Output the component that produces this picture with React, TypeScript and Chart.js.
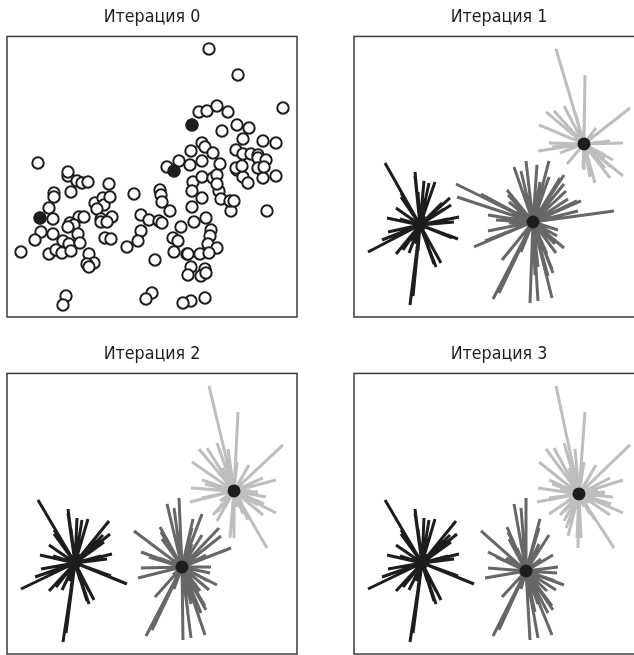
import React, { useEffect, useRef } from "react";
import { Chart, registerables } from "chart.js";

Chart.register(...registerables);

const pointX = [
  68, 77, 82, 88, 71, 54, 54, 95, 103, 104, 49, 97, 53, 79, 84, 112, 101, 101, 107, 70, 74, 68, 41, 53, 78,
  35, 63, 69, 80, 105, 111, 21, 49, 56, 62, 71, 89, 94, 87, 89, 66, 63, 38, 68, 40,
  109, 110, 127,
  134, 141, 149, 159, 162, 141, 138, 155, 152, 146, 160, 161, 162, 170, 192, 181, 194, 206, 211, 210, 173, 178,
  208, 217, 174, 187, 188, 200, 209, 191, 205, 188, 201, 206, 191, 183, 205, 193, 202, 192, 231, 179, 167, 174,
  202, 219, 221, 230, 234,
  213, 217, 217, 237, 243, 248, 267, 202, 190, 220,
  263, 276, 209, 238, 283, 199, 207, 217, 228, 237, 249, 222, 243, 263, 276, 202, 205, 191, 213, 236, 243, 251,
  258, 258, 266, 236, 242, 258, 264, 192,
];
const pointY = [
  176, 181, 183, 182, 192, 193, 197, 203, 198, 205, 208, 209, 219, 217, 217, 217, 219, 222, 222, 223, 225, 227, 232, 234, 234,
  240, 241, 244, 243, 238, 239, 252, 254, 250, 253, 251, 254, 263, 264, 267, 296, 305, 163, 172, 218,
  184, 197, 247,
  194, 215, 220, 221, 223, 231, 241, 260, 293, 299, 190, 195, 202, 211, 207, 227, 222, 218, 230, 236, 238, 241,
  244, 248, 252, 254, 254, 254, 253, 267, 269, 275, 276, 273, 301, 303, 298, 182, 198, 191, 211, 161, 167, 171,
  177, 191, 199, 201, 201,
  178, 175, 184, 170, 177, 183, 211, 161, 165, 164,
  178, 176, 49, 75, 108, 112, 111, 106, 112, 125, 128, 131, 139, 141, 143, 143, 147, 151, 153, 150, 154, 154,
  155, 158, 160, 168, 166, 168, 167, 125,
];
const labels1 = [
  0, 0, 0, 0, 0, 0, 0, 0, 0, 0, 0, 0, 0, 0, 0, 0, 0, 0, 0, 0, 0, 0, 0, 0, 0,
  0, 0, 0, 0, 0, 0, 0, 0, 0, 0, 0, 0, 0, 0, 0, 0, 0, 0, 0, 0,
  1, 1, 1,
  1, 1, 1, 1, 1, 1, 1, 1, 1, 1, 1, 1, 1, 1, 1, 1, 1, 1, 1, 1, 1, 1,
  1, 1, 1, 1, 1, 1, 1, 1, 1, 1, 1, 1, 1, 1, 1, 1, 1, 1, 1, 1, 1, 1,
  1, 1, 1, 1, 1,
  1, 1, 1, 2, 2, 2, 1, 1, 1, 2,
  2, 2, 2, 2, 2, 2, 2, 2, 2, 2, 2, 2, 2, 2, 2, 2, 2, 2, 2, 2, 2, 2,
  2, 2, 2, 2, 2, 2, 2, 2,
];
const labels2 = [
  0, 0, 0, 0, 0, 0, 0, 0, 0, 0, 0, 0, 0, 0, 0, 0, 0, 0, 0, 0, 0, 0, 0, 0, 0,
  0, 0, 0, 0, 0, 0, 0, 0, 0, 0, 0, 0, 0, 0, 0, 0, 0, 0, 0, 0,
  0, 0, 0,
  1, 1, 1, 1, 1, 1, 1, 1, 1, 1, 1, 1, 1, 1, 1, 1, 1, 1, 1, 1, 1, 1,
  1, 1, 1, 1, 1, 1, 1, 1, 1, 1, 1, 1, 1, 1, 1, 1, 1, 1, 1, 1, 1, 1,
  1, 1, 1, 2, 2,
  2, 2, 2, 2, 2, 2, 2, 2, 2, 2,
  2, 2, 2, 2, 2, 2, 2, 2, 2, 2, 2, 2, 2, 2, 2, 2, 2, 2, 2, 2, 2, 2,
  2, 2, 2, 2, 2, 2, 2, 2,
];
const labels3 = [
  0, 0, 0, 0, 0, 0, 0, 0, 0, 0, 0, 0, 0, 0, 0, 0, 0, 0, 0, 0, 0, 0, 0, 0, 0,
  0, 0, 0, 0, 0, 0, 0, 0, 0, 0, 0, 0, 0, 0, 0, 0, 0, 0, 0, 0,
  0, 0, 0,
  1, 1, 1, 1, 1, 1, 1, 1, 1, 1, 1, 1, 1, 1, 1, 1, 1, 1, 1, 1, 1, 1,
  1, 1, 1, 1, 1, 1, 1, 1, 1, 1, 1, 1, 1, 1, 1, 1, 1, 1, 2, 1, 1, 1,
  2, 2, 2, 2, 2,
  2, 2, 2, 2, 2, 2, 2, 2, 2, 2,
  2, 2, 2, 2, 2, 2, 2, 2, 2, 2, 2, 2, 2, 2, 2, 2, 2, 2, 2, 2, 2, 2,
  2, 2, 2, 2, 2, 2, 2, 2,
];

const seedX = [40, 174, 192];
const seedY = [218, 171, 125];
const centre1X = [73, 186, 237];
const centre1Y = [225, 222, 144];
const centre2X = [75, 182, 234];
const centre2Y = [226, 230, 154];
const centre3X = [75, 179, 232];
const centre3Y = [226, 234, 157];

const titles = ["Итерация 0", "Итерация 1", "Итерация 2", "Итерация 3"];
const clusterColors = ["#1e1c1d", "#676767", "#bcbec0"];
const INK = "#1e1c1d";
const FRAME = "#3a3a3a";

const frame = {
  id: "frame",
  afterDatasetsDraw(chart: any) {
    const { ctx, chartArea: a } = chart;
    ctx.save();
    ctx.strokeStyle = FRAME;
    ctx.lineWidth = 1.5;
    ctx.strokeRect(a.left, a.top, a.right - a.left, a.bottom - a.top);
    ctx.restore();
  },
};

function zip(xs: number[], ys: number[]) {
  return xs.map((x, i) => ({ x, y: ys[i] }));
}

function scatterDatasets() {
  return [
    {
      data: zip(seedX, seedY),
      pointRadius: 6.4,
      pointBorderWidth: 0,
      pointBackgroundColor: INK,
      showLine: false,
    },
    {
      data: zip(pointX, pointY),
      pointRadius: 5.7,
      pointBorderWidth: 2,
      pointBorderColor: INK,
      pointBackgroundColor: "#ffffff",
      showLine: false,
    },
  ];
}

function spokeDatasets(labels: number[], cx: number[], cy: number[]) {
  const centres = {
    data: zip(cx, cy),
    pointRadius: 6.5,
    pointBorderWidth: 0,
    pointBackgroundColor: INK,
    showLine: false,
  };
  const spokes = [2, 1, 0].map((c) => {
    const data: { x: number; y: number }[] = [];
    labels.forEach((l, i) => {
      if (l !== c) return;
      data.push({ x: cx[c], y: cy[c] }, { x: pointX[i], y: pointY[i] }, { x: NaN, y: NaN });
    });
    return {
      data,
      showLine: true,
      spanGaps: false,
      borderColor: clusterColors[c],
      borderWidth: 3,
      borderCapStyle: "butt",
      pointRadius: 0,
      tension: 0,
    };
  });
  return [centres, ...spokes];
}

const panels = [
  { left: 0, top: 0, datasets: scatterDatasets() },
  { left: 347, top: 0, datasets: spokeDatasets(labels1, centre1X, centre1Y) },
  { left: 0, top: 337, datasets: spokeDatasets(labels2, centre2X, centre2Y) },
  { left: 347, top: 337, datasets: spokeDatasets(labels3, centre3X, centre3Y) },
];

function Panel({ index }: { index: number }) {
  const ref = useRef<HTMLCanvasElement>(null);
  const p = panels[index];
  useEffect(() => {
    const chart = new Chart(ref.current!, {
      type: "scatter",
      data: { datasets: p.datasets as any },
      plugins: [frame],
      options: {
        animation: false,
        responsive: false,
        events: [],
        layout: { autoPadding: false, padding: { left: 7, right: 7, top: 0, bottom: 1 } },
        plugins: {
          legend: { display: false },
          tooltip: { enabled: false },
          title: {
            display: true,
            text: titles[index],
            color: INK,
            font: { family: "'DejaVu Sans Condensed', Roboto", size: 17.7, weight: "normal" },
            padding: { top: 7, bottom: 8.2 },
          },
        },
        scales: {
          x: { type: "linear", display: false, min: 7, max: 297 },
          y: { type: "linear", display: false, reverse: true, min: 36.5, max: 317 },
        },
      } as any,
    });
    return () => chart.destroy();
  }, []);
  return (
    <canvas
      ref={ref}
      width={304}
      height={318}
      style={{ position: "absolute", left: p.left, top: p.top, width: 304, height: 318 }}
    />
  );
}

export default function App() {
  return (
    <div style={{ position: "fixed", left: 0, top: 0, width: 634, height: 655, overflow: "hidden", background: "#fff" }}>
      {panels.map((_, i) => (
        <Panel key={i} index={i} />
      ))}
    </div>
  );
}
